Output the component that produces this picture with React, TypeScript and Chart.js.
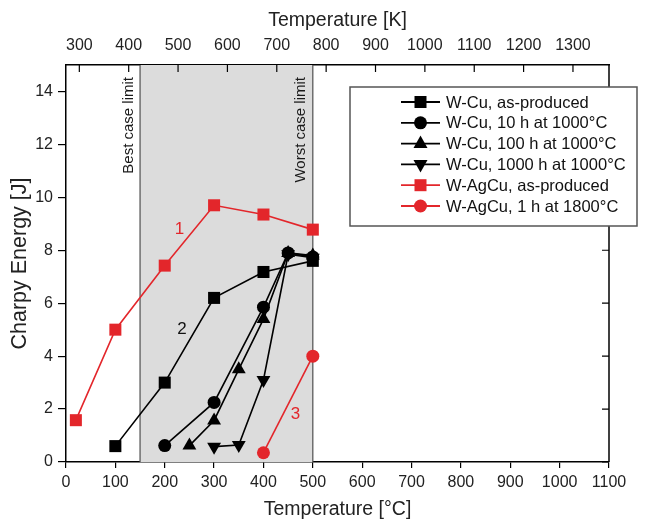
import React, { useEffect, useRef } from 'react';
import { Chart, registerables } from 'chart.js';
Chart.register(...registerables);

// ---- data ----
const tempWCuAP = [100, 200, 300, 400, 500];
const energyWCuAP = [0.6, 3.0, 6.2, 7.18, 7.6];
const tempWCu10h = [200, 300, 400, 450, 500];
const energyWCu10h = [0.62, 2.25, 5.85, 7.9, 7.75];
const tempWCu100h = [250, 300, 350, 400, 450, 500];
const energyWCu100h = [0.62, 1.57, 3.5, 5.4, 7.9, 7.8];
const tempWCu1000h = [300, 350, 400, 450, 500];
const energyWCu1000h = [0.58, 0.64, 3.1, 7.85, 7.72];
const tempWAgCuAP = [20, 100, 200, 300, 400, 500];
const energyWAgCuAP = [1.58, 5.0, 7.42, 9.7, 9.35, 8.78];
const tempWAgCu1h = [400, 500];
const energyWAgCu1h = [0.35, 4.0];

const seriesLabels = [
  'W-Cu, as-produced',
  'W-Cu, 10 h at 1000°C',
  'W-Cu, 100 h at 1000°C',
  'W-Cu, 1000 h at 1000°C',
  'W-AgCu, as-produced',
  'W-AgCu, 1 h at 1800°C',
];
const seriesStyles = ['rect', 'circle', 'triangle', 'triangleDown', 'rect', 'circle'];
const seriesColors = ['#000000', '#000000', '#000000', '#000000', '#e3262b', '#e3262b'];

const xTicksC = [0, 100, 200, 300, 400, 500, 600, 700, 800, 900, 1000, 1100];
const xTicksK = [300, 400, 500, 600, 700, 800, 900, 1000, 1100, 1200, 1300];
const yTicks = [0, 2, 4, 6, 8, 10, 12, 14];

const shadeRange = [150, 500];
const regionLabels = ['Best case limit', 'Worst case limit'];
const curveLabels = [
  { text: '1', x: 230, y: 8.8, color: '#e3262b' },
  { text: '2', x: 235, y: 5.0, color: '#111111' },
  { text: '3', x: 465, y: 1.82, color: '#e3262b' },
];

const FONT = '"Liberation Sans", Arial, sans-serif';

const pts = (xs: number[], ys: number[]) => xs.map((x, i) => ({ x, y: ys[i] }));

function drawMarker(ctx: CanvasRenderingContext2D, style: string, x: number, y: number, color: string) {
  ctx.save();
  ctx.fillStyle = color;
  ctx.beginPath();
  if (style === 'rect') {
    ctx.rect(x - 6, y - 6, 12, 12);
  } else if (style === 'circle') {
    ctx.arc(x, y, 6.5, 0, Math.PI * 2);
  } else if (style === 'triangle') {
    ctx.moveTo(x, y - 8);
    ctx.lineTo(x + 7, y + 4.5);
    ctx.lineTo(x - 7, y + 4.5);
    ctx.closePath();
  } else {
    ctx.moveTo(x, y + 8);
    ctx.lineTo(x + 7, y - 4.5);
    ctx.lineTo(x - 7, y - 4.5);
    ctx.closePath();
  }
  ctx.fill();
  ctx.restore();
}

const decorPlugin = {
  id: 'decor',
  beforeDatasetsDraw(chart: any) {
    const { ctx, chartArea } = chart;
    const xs = chart.scales.x;
    const ys = chart.scales.y;
    const x1 = xs.getPixelForValue(shadeRange[0]);
    const x2 = xs.getPixelForValue(shadeRange[1]);
    ctx.save();
    ctx.fillStyle = '#dcdcdc';
    ctx.fillRect(x1, chartArea.top, x2 - x1, chartArea.bottom - chartArea.top);
    ctx.strokeStyle = '#505050';
    ctx.lineWidth = 1.2;
    ctx.beginPath();
    ctx.moveTo(x1, chartArea.top);
    ctx.lineTo(x1, chartArea.bottom);
    ctx.moveTo(x2, chartArea.top);
    ctx.lineTo(x2, chartArea.bottom);
    ctx.stroke();
    // rotated labels
    ctx.fillStyle = '#1a1a1a';
    ctx.font = `15px ${FONT}`;
    ctx.textAlign = 'right';
    ctx.textBaseline = 'bottom';
    [x1, x2].forEach((xp, i) => {
      ctx.save();
      ctx.translate(xp - 4, chartArea.top + 12);
      ctx.rotate(-Math.PI / 2);
      ctx.fillText(regionLabels[i], 0, 0);
      ctx.restore();
    });
    // curve labels
    ctx.font = `17px ${FONT}`;
    ctx.textAlign = 'center';
    ctx.textBaseline = 'middle';
    curveLabels.forEach((c) => {
      ctx.fillStyle = c.color;
      ctx.fillText(c.text, xs.getPixelForValue(c.x), ys.getPixelForValue(c.y));
    });
    ctx.restore();
  },
  afterDraw(chart: any) {
    const { ctx, chartArea } = chart;
    const top = chart.scales.xTop;
    const ys = chart.scales.y;
    ctx.save();
    ctx.strokeStyle = '#000';
    ctx.lineWidth = 1.5;
    ctx.beginPath();
    ctx.moveTo(chartArea.right, chartArea.top);
    ctx.lineTo(chartArea.right, chartArea.bottom);
    ctx.stroke();
    ctx.lineWidth = 1.2;
    ctx.beginPath();
    xTicksK.forEach((v) => {
      const p = top.getPixelForValue(v);
      ctx.moveTo(p, chartArea.top);
      ctx.lineTo(p, chartArea.top + 7);
    });
    yTicks.forEach((v) => {
      const p = ys.getPixelForValue(v);
      ctx.moveTo(chartArea.right, p);
      ctx.lineTo(chartArea.right - 7, p);
    });
    ctx.stroke();

    // legend
    const lx = 350, ly = 87, lw = 287, lh = 139;
    ctx.fillStyle = '#ffffff';
    ctx.fillRect(lx, ly, lw, lh);
    ctx.strokeStyle = '#555';
    ctx.lineWidth = 1.5;
    ctx.strokeRect(lx, ly, lw, lh);
    ctx.font = `16.5px ${FONT}`;
    ctx.textAlign = 'left';
    ctx.textBaseline = 'middle';
    seriesLabels.forEach((lab, i) => {
      const y = 102 + i * 20.8;
      ctx.strokeStyle = seriesColors[i];
      ctx.lineWidth = 1.8;
      ctx.beginPath();
      ctx.moveTo(401, y);
      ctx.lineTo(440, y);
      ctx.stroke();
      drawMarker(ctx, seriesStyles[i], 420.5, y, seriesColors[i]);
      ctx.fillStyle = '#111';
      ctx.fillText(lab, 446, y + 1);
    });
    ctx.restore();
  },
};

const plain = (v: any) => String(v);

export default function App() {
  const ref = useRef<HTMLCanvasElement>(null);
  useEffect(() => {
    if (!ref.current) return;
    const mk = (i: number, data: { x: number; y: number }[]) => {
      const style = seriesStyles[i];
      const isTri = style === 'triangle' || style === 'triangleDown';
      return {
        label: seriesLabels[i],
        data,
        showLine: true,
        borderColor: seriesColors[i],
        backgroundColor: seriesColors[i],
        borderWidth: 1.6,
        pointStyle: isTri ? 'triangle' : style,
        rotation: style === 'triangleDown' ? 180 : 0,
        pointRadius: style === 'rect' ? 8.5 : style === 'circle' ? 6.5 : 8,
        pointBorderWidth: 0,
        clip: false as any,
      };
    };
    const chart = new Chart(ref.current, {
      type: 'scatter',
      data: {
        datasets: [
          mk(0, pts(tempWCuAP, energyWCuAP)),
          mk(1, pts(tempWCu10h, energyWCu10h)),
          mk(2, pts(tempWCu100h, energyWCu100h)),
          mk(3, pts(tempWCu1000h, energyWCu1000h)),
          mk(4, pts(tempWAgCuAP, energyWAgCuAP)),
          mk(5, pts(tempWAgCu1h, energyWAgCu1h)),
        ] as any,
      },
      options: {
        responsive: false,
        animation: false,
        layout: { padding: { left: 0, right: 58, top: 0, bottom: 0 } },
        plugins: { legend: { display: false }, tooltip: { enabled: false } },
        scales: {
          x: {
            type: 'linear',
            position: 'bottom',
            min: 0,
            max: 1100,
            afterBuildTicks: (s: any) => { s.ticks = xTicksC.map((v) => ({ value: v })); },
            afterFit: (s: any) => { s.height = 59; },
            grid: { drawOnChartArea: false, tickLength: 6, color: '#000', lineWidth: 1.2 },
            border: { color: '#000', width: 1.5 },
            ticks: { callback: plain, font: { family: FONT, size: 16 }, color: '#222', padding: 5, maxRotation: 0, autoSkip: false },
            title: { display: true, text: 'Temperature [°C]', font: { family: FONT, size: 19.5 }, color: '#222', padding: { top: 0, bottom: 0 } },
          },
          xTop: {
            type: 'linear',
            position: 'top',
            min: 273,
            max: 1373,
            afterBuildTicks: (s: any) => { s.ticks = xTicksK.map((v) => ({ value: v })); },
            afterFit: (s: any) => { s.height = 65; },
            grid: { drawOnChartArea: false, drawTicks: false },
            border: { color: '#000', width: 1.5 },
            ticks: { callback: plain, font: { family: FONT, size: 16 }, color: '#222', padding: 10, maxRotation: 0, autoSkip: false },
            title: { display: true, text: 'Temperature [K]', font: { family: FONT, size: 19.5 }, color: '#222', padding: { top: 9, bottom: 0 } },
          },
          y: {
            type: 'linear',
            position: 'left',
            min: 0,
            max: 15,
            afterBuildTicks: (s: any) => { s.ticks = yTicks.map((v) => ({ value: v })); },
            afterFit: (s: any) => { s.width = 66; },
            grid: { drawOnChartArea: false, tickLength: 8, color: '#000', lineWidth: 1.2 },
            border: { color: '#000', width: 1.5 },
            ticks: { callback: plain, font: { family: FONT, size: 16 }, color: '#222', padding: 5 },
            title: { display: true, text: 'Charpy Energy [J]', font: { family: FONT, size: 21.5 }, color: '#222', padding: { top: 7, bottom: 0 } },
          },
        } as any,
      },
      plugins: [decorPlugin],
    });
    return () => chart.destroy();
  }, []);
  return (
    <div style={{ position: 'absolute', left: 0, top: 0, width: 667, height: 521, background: '#fff' }}>
      <canvas ref={ref} width={667} height={521} style={{ display: 'block' }} />
    </div>
  );
}
